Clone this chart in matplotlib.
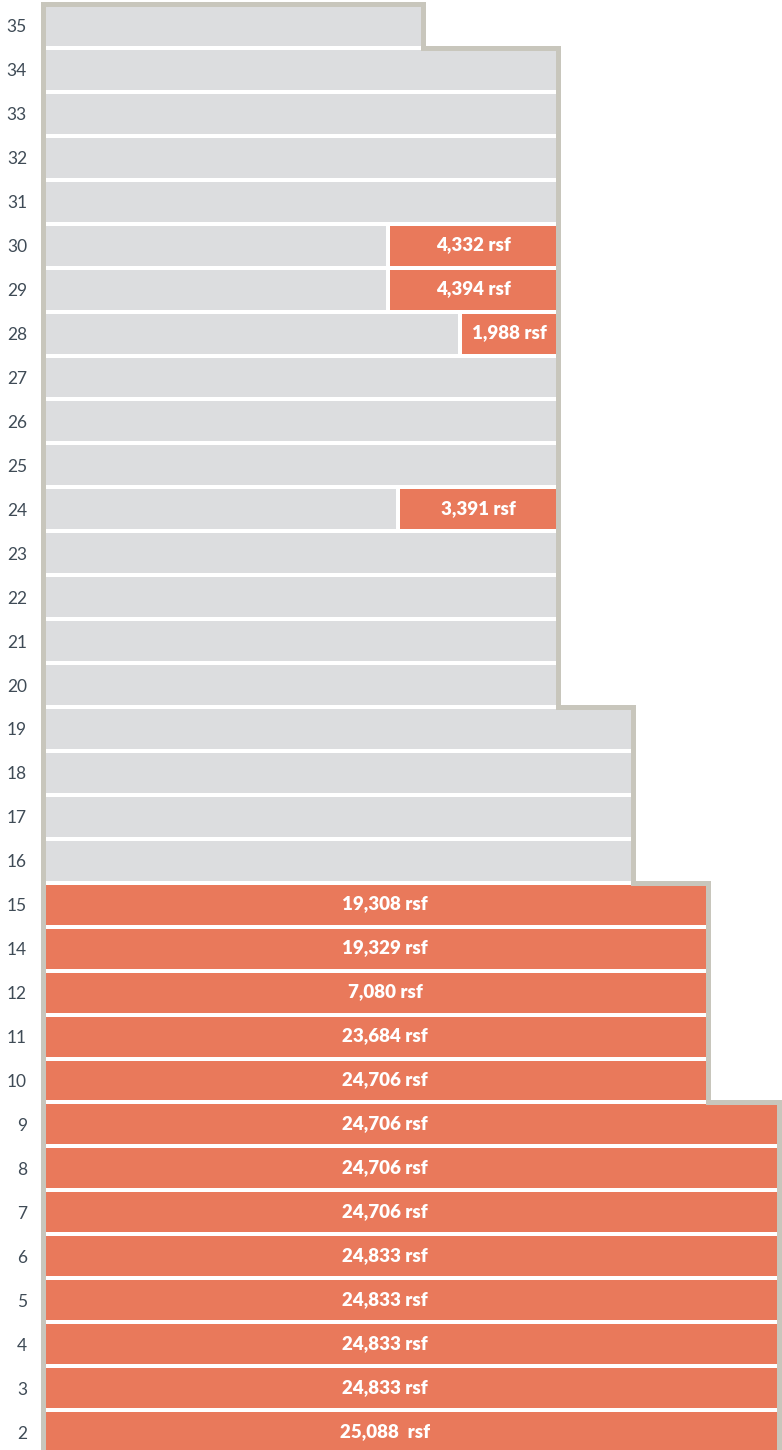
import matplotlib.pyplot as plt

# floors top to bottom (no 13th floor)
floors = ["35", "34", "33", "32", "31", "30", "29", "28", "27", "26", "25", "24",
          "23", "22", "21", "20", "19", "18", "17", "16", "15", "14", "12", "11",
          "10", "9", "8", "7", "6", "5", "4", "3", "2"]

# floor plate width (drawing units) for each floor
plate_width = [376] + [511] * 15 + [586] * 4 + [661] * 5 + [732] * 8

# available space width on each floor (0 = nothing available)
avail_width = [0, 0, 0, 0, 0, 166, 166, 94, 0, 0, 0, 156,
               0, 0, 0, 0, 0, 0, 0, 0,
               661, 661, 661, 661, 661,
               732, 732, 732, 732, 732, 732, 732, 732]

avail_label = ["", "", "", "", "", "4,332 rsf", "4,394 rsf", "1,988 rsf", "", "", "", "3,391 rsf",
               "", "", "", "", "", "", "", "",
               "19,308 rsf", "19,329 rsf", "7,080 rsf", "23,684 rsf", "24,706 rsf",
               "24,706 rsf", "24,706 rsf", "24,706 rsf", "24,833 rsf", "24,833 rsf",
               "24,833 rsf", "24,833 rsf", "25,088  rsf"]

GRAY = "#dcdddf"
ORANGE = "#e9795b"
OUTLINE = "#c8c6bc"
LABEL = "#3f4b56"
GAP = 4          # white gap between leased and available space
PAD = 2.5        # outline offset from the bars
FULL_TEXT_X = 340

fig = plt.figure(figsize=(7.82, 14.5), dpi=100)
ax = fig.add_axes([45 / 782, 0, 737 / 782, 1])

rows = list(range(len(floors)))
bar_h = 40 / 44

for i in rows:
    w = plate_width[i]
    a = avail_width[i]
    if a < w:
        gray_w = w - a - GAP if a > 0 else w
        ax.barh(i, gray_w, left=0, height=bar_h, color=GRAY, linewidth=0)
    if a > 0:
        left = w - a
        ax.barh(i, a, left=left, height=bar_h, color=ORANGE, linewidth=0)
        tx = left + a / 2 if a < w else FULL_TEXT_X
        ax.text(tx, i - 0.02, avail_label[i], ha="center", va="center", color="white",
                fontsize=13.5, fontweight="heavy", family="Lato")

# building outline
xs = [-PAD, -PAD, plate_width[0] + PAD]
ys = [len(floors) + 1, -0.5, -0.5]
for i in rows[:-1]:
    xs += [plate_width[i] + PAD, plate_width[i + 1] + PAD]
    ys += [i + 0.5, i + 0.5]
xs.append(plate_width[-1] + PAD)
ys.append(len(floors) + 1)
ax.plot(xs, ys, color=OUTLINE, linewidth=3.6, solid_joinstyle="miter",
        solid_capstyle="projecting", clip_on=False)

ax.set_xlim(0, 737)
ax.set_ylim((1450 - 24) / 44, -26 / 44)
ax.set_yticks(rows)
ax.set_yticklabels(floors, family="Lato", fontsize=12.5, color=LABEL)
ax.tick_params(axis="y", length=0, pad=13)
ax.set_xticks([])
for s in ax.spines.values():
    s.set_visible(False)

fig.savefig("out.png", dpi=100)
